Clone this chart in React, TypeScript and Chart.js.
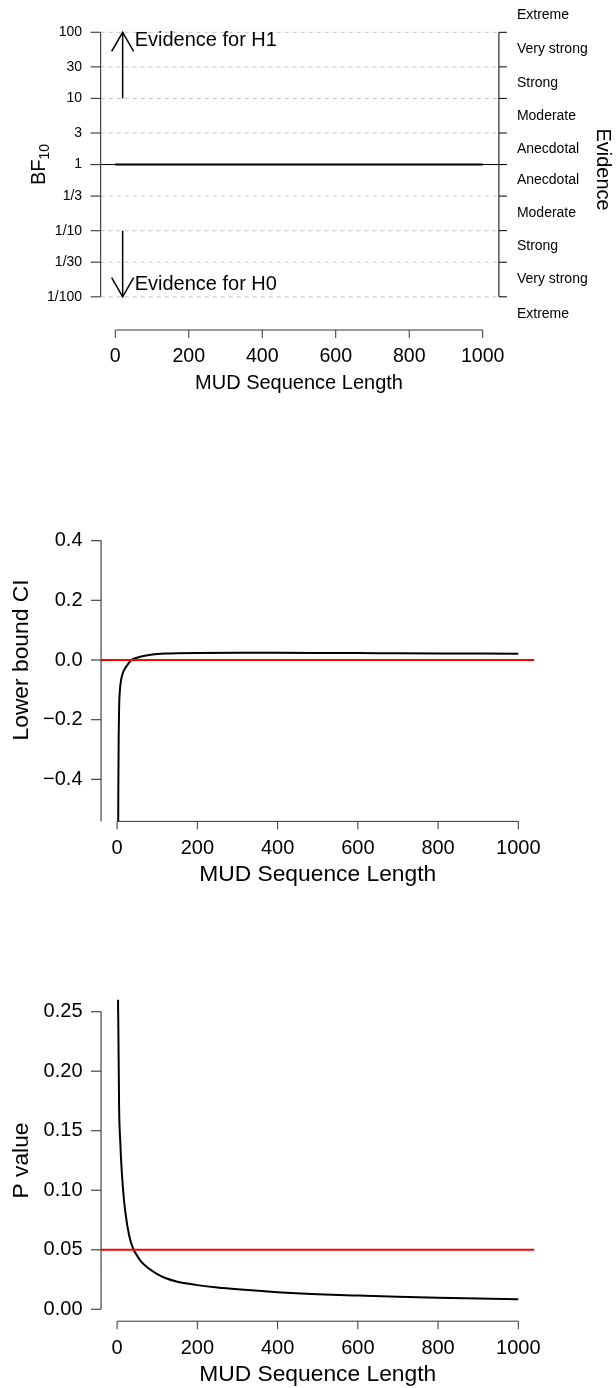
import React, { useEffect, useRef } from "react";
import { Chart, registerables } from "chart.js";
Chart.register(...registerables);

const FONT = '"Liberation Sans", Arial, Helvetica, sans-serif';

// ---------- data ----------
const xTickValues = [0, 200, 400, 600, 800, 1000];
const xTickLabels = ["0", "200", "400", "600", "800", "1000"];
const xTitle = "MUD Sequence Length";

// Panel 1: sequential Bayes factor
const bfTickValues = [100, 30, 10, 3, 1, 1 / 3, 1 / 10, 1 / 30, 1 / 100];
const bfTickLabels = ["100", "30", "10", "3", "1", "1/3", "1/10", "1/30", "1/100"];
const evidenceLabels = ["Extreme", "Very strong", "Strong", "Moderate", "Anecdotal", "Anecdotal", "Moderate", "Strong", "Very strong", "Extreme"];
const bfN = [0, 100, 200, 300, 400, 500, 600, 700, 800, 900, 1000];
const bfValues = [1, 1, 1, 1, 1, 1, 1, 1, 1, 1, 1];

// Panel 2: lower bound of CI
const ciTickValues = [0.4, 0.2, 0, -0.2, -0.4];
const ciTickLabels = ["0.4", "0.2", "0.0", "\u22120.2", "\u22120.4"];
const ciN = [2, 3, 4, 5, 7, 10, 14, 20, 28, 36, 45, 60, 80, 100, 120, 150, 200, 300, 400, 500, 600, 700, 800, 900, 1000];
const ciLower = [-0.9, -0.45, -0.25, -0.16, -0.1, -0.067, -0.045, -0.028, -0.012, 0.0, 0.006, 0.012, 0.017, 0.0198, 0.0215, 0.0228, 0.0238, 0.0242, 0.024, 0.0236, 0.0231, 0.0226, 0.0221, 0.0216, 0.0211];
const ciReference = 0;

// Panel 3: p value
const pTickValues = [0.25, 0.2, 0.15, 0.1, 0.05, 0];
const pTickLabels = ["0.25", "0.20", "0.15", "0.10", "0.05", "0.00"];
const pN = [1, 2, 3, 5, 8, 10, 15, 20, 30, 40, 50, 60, 80, 100, 120, 150, 175, 200, 250, 300, 400, 500, 600, 700, 800, 900, 1000];
const pValues = [0.6, 0.3, 0.24, 0.17, 0.14, 0.125, 0.1, 0.083, 0.062, 0.051, 0.045, 0.04, 0.034, 0.0295, 0.0263, 0.0232, 0.0216, 0.0203, 0.0183, 0.0168, 0.0144, 0.0127, 0.0115, 0.0105, 0.0097, 0.009, 0.0084];
const pReference = 0.05;

const X_MIN = -40;
const X_MAX = 1040;

function pts(xs: number[], ys: number[]) {
  return xs.map((x, i) => ({ x, y: ys[i] }));
}

function line(ctx: CanvasRenderingContext2D, x1: number, y1: number, x2: number, y2: number) {
  ctx.beginPath();
  ctx.moveTo(x1, y1);
  ctx.lineTo(x2, y2);
  ctx.stroke();
}

function drawXAxis(chart: any, axisY: number, fontSize: number, titleSize: number) {
  const ctx = chart.ctx as CanvasRenderingContext2D;
  const xs = chart.scales.x;
  const x0 = xs.getPixelForValue(xTickValues[0]);
  const x1 = xs.getPixelForValue(xTickValues[xTickValues.length - 1]);
  ctx.save();
  ctx.strokeStyle = "#333";
  ctx.lineWidth = 1;
  line(ctx, x0, axisY, x1, axisY);
  ctx.fillStyle = "#000";
  ctx.font = `${fontSize}px ${FONT}`;
  ctx.textAlign = "center";
  ctx.textBaseline = "middle";
  xTickValues.forEach((v, i) => {
    const px = xs.getPixelForValue(v);
    line(ctx, px, axisY, px, axisY + 8);
    ctx.fillText(xTickLabels[i], px, axisY + 27);
  });
  ctx.font = `${titleSize}px ${FONT}`;
  const ca = chart.chartArea;
  ctx.fillText(xTitle, (ca.left + ca.right) / 2, axisY + 53.5);
  ctx.restore();
}

function drawYAxis(chart: any, vals: number[], labels: string[], fontSize: number, yTop: number, yBottom: number) {
  const ctx = chart.ctx as CanvasRenderingContext2D;
  const ys = chart.scales.y;
  const left = chart.chartArea.left;
  ctx.save();
  ctx.strokeStyle = "#444";
  ctx.lineWidth = 1.2;
  line(ctx, left, yTop, left, yBottom);
  ctx.fillStyle = "#000";
  ctx.font = `${fontSize}px ${FONT}`;
  ctx.textAlign = "right";
  ctx.textBaseline = "middle";
  vals.forEach((v, i) => {
    const py = ys.getPixelForValue(v);
    line(ctx, left - 10, py, left, py);
    ctx.fillText(labels[i], left - 18.5, py);
  });
  ctx.restore();
}

function drawRotated(ctx: CanvasRenderingContext2D, text: string, x: number, y: number, angle: number, size: number) {
  ctx.save();
  ctx.translate(x, y);
  ctx.rotate(angle);
  ctx.font = `${size}px ${FONT}`;
  ctx.fillStyle = "#000";
  ctx.textAlign = "center";
  ctx.textBaseline = "middle";
  ctx.fillText(text, 0, 0);
  ctx.restore();
}

function arrow(ctx: CanvasRenderingContext2D, x: number, yFrom: number, yTo: number) {
  const dir = yTo < yFrom ? 1 : -1;
  line(ctx, x, yFrom, x, yTo);
  const len = 22;
  const dx = len * Math.sin(Math.PI / 6);
  const dy = len * Math.cos(Math.PI / 6);
  ctx.beginPath();
  ctx.moveTo(x - dx, yTo + dir * dy);
  ctx.lineTo(x, yTo);
  ctx.lineTo(x + dx, yTo + dir * dy);
  ctx.stroke();
}

const bfPlugin = {
  id: "bfDecor",
  beforeDatasetsDraw(chart: any) {
    const ctx = chart.ctx as CanvasRenderingContext2D;
    const ys = chart.scales.y;
    const ca = chart.chartArea;
    const bx = ca.right + 1.5;
    ctx.save();
    ctx.strokeStyle = "#c4c4c4";
    ctx.lineWidth = 1;
    ctx.setLineDash([4, 4]);
    bfTickValues.forEach((v) => {
      if (v === 1) return;
      const py = ys.getPixelForValue(v);
      line(ctx, ca.left, py, bx, py);
    });
    ctx.restore();
  },
  afterDatasetsDraw(chart: any) {
    const ctx = chart.ctx as CanvasRenderingContext2D;
    const xs = chart.scales.x;
    const ys = chart.scales.y;
    const ca = chart.chartArea;
    const bx = ca.right + 1.5;
    const yTop = ys.getPixelForValue(bfTickValues[0]);
    const yBot = ys.getPixelForValue(bfTickValues[bfTickValues.length - 1]);
    ctx.save();
    // horizontal line at BF = 1
    ctx.strokeStyle = "#000";
    ctx.lineWidth = 1;
    const y1 = ys.getPixelForValue(1);
    line(ctx, ca.left - 10, y1, bx + 8, y1);
    // left axis
    drawYAxis(chart, bfTickValues, bfTickLabels, 14, yTop, yBot);
    // right bracket
    ctx.strokeStyle = "#000";
    line(ctx, bx, yTop, bx, yBot);
    bfTickValues.forEach((v) => {
      const py = ys.getPixelForValue(v);
      line(ctx, bx, py, bx + 8, py);
    });
    // evidence category labels at geometric midpoints
    ctx.fillStyle = "#000";
    ctx.font = `14px ${FONT}`;
    ctx.textAlign = "left";
    ctx.textBaseline = "middle";
    const edges = [bfTickValues[0] * 1.8, ...bfTickValues, bfTickValues[bfTickValues.length - 1] / 1.8];
    evidenceLabels.forEach((lab, i) => {
      let v: number;
      if (i === 0) v = edges[0];
      else if (i === evidenceLabels.length - 1) v = edges[edges.length - 1];
      else v = Math.sqrt(edges[i] * edges[i + 1]);
      ctx.fillText(lab, bx + 18, ys.getPixelForValue(v));
    });
    drawRotated(ctx, "Evidence", 603, (yTop + yBot) / 2 + 5, Math.PI / 2, 20);
    // BF10 label
    ctx.save();
    ctx.translate(39, (yTop + yBot) / 2);
    ctx.rotate(-Math.PI / 2);
    ctx.font = `20px ${FONT}`;
    const wBF = ctx.measureText("BF").width;
    ctx.font = `14px ${FONT}`;
    const wSub = ctx.measureText("10").width;
    const start = -(wBF + wSub) / 2;
    ctx.textAlign = "left";
    ctx.textBaseline = "middle";
    ctx.fillStyle = "#000";
    ctx.font = `20px ${FONT}`;
    ctx.fillText("BF", start, 0);
    ctx.font = `14px ${FONT}`;
    ctx.fillText("10", start + wBF, 6);
    ctx.restore();
    // arrows
    ctx.strokeStyle = "#000";
    ctx.lineWidth = 1.5;
    const ax = xs.getPixelForValue(20);
    arrow(ctx, ax, ys.getPixelForValue(10), yTop);
    arrow(ctx, ax, ys.getPixelForValue(0.1), yBot);
    ctx.font = `20px ${FONT}`;
    ctx.textAlign = "left";
    ctx.textBaseline = "middle";
    ctx.fillText("Evidence for H1", ax + 12, yTop + 8);
    ctx.fillText("Evidence for H0", ax + 12, yBot - 12);
    // x axis (detached)
    drawXAxis(chart, yBot + 33.2, 19.6, 20);
    ctx.restore();
  },
};

function makeCurvePlugin(id: string, vals: number[], labels: string[], title: string, axisBottomToArea: boolean) {
  return {
    id,
    afterDatasetsDraw(chart: any) {
      const ctx = chart.ctx as CanvasRenderingContext2D;
      const ys = chart.scales.y;
      const ca = chart.chartArea;
      const yTop = ys.getPixelForValue(vals[0]);
      const yBot = axisBottomToArea ? ca.bottom : ys.getPixelForValue(vals[vals.length - 1]);
      drawYAxis(chart, vals, labels, 20, yTop, yBot);
      drawXAxis(chart, ca.bottom, 20, 22.8);
      drawRotated(ctx, title, 21.6, (ca.top + ca.bottom) / 2, -Math.PI / 2, 22.8);
    },
  };
}

type PanelProps = {
  top: number;
  height: number;
  config: any;
};

function Panel({ top, height, config }: PanelProps) {
  const ref = useRef<HTMLCanvasElement | null>(null);
  useEffect(() => {
    if (!ref.current) return;
    const chart = new Chart(ref.current, config);
    return () => chart.destroy();
  }, []);
  return (
    <canvas
      ref={ref}
      width={616}
      height={height}
      style={{ position: "absolute", left: 0, top, width: 616, height }}
    />
  );
}

const baseOptions = (padding: any, yScale: any) => ({
  responsive: false,
  animation: false,
  devicePixelRatio: 1,
  layout: { padding },
  plugins: { legend: { display: false }, tooltip: { enabled: false } },
  scales: {
    x: { type: "linear", min: X_MIN, max: X_MAX, display: false },
    y: yScale,
  },
});

const lineDs = (data: any[], color: string, width: number) => ({
  data,
  borderColor: color,
  borderWidth: width,
  pointRadius: 0,
  fill: false,
  cubicInterpolationMode: "monotone",
  clip: 0,
});

const config1 = {
  type: "line",
  data: {
    datasets: [lineDs(pts(bfN, bfValues), "#e05050", 3)],
  },
  options: baseOptions(
    { left: 100.6, right: 118.6, top: 32.3, bottom: 410 - 296.8 },
    { type: "logarithmic", min: 0.01, max: 100, display: false }
  ),
  plugins: [bfPlugin],
};

const config2 = {
  type: "line",
  data: {
    datasets: [
      lineDs(pts([X_MIN, X_MAX], [ciReference, ciReference]), "#ff0000", 2),
      lineDs(pts(ciN, ciLower), "#000000", 2),
    ],
  },
  options: baseOptions(
    { left: 101.05, right: 81.65, top: 78.6, bottom: 78.6 },
    { type: "linear", min: -0.5408, max: 0.5408, display: false }
  ),
  plugins: [makeCurvePlugin("ciDecor", ciTickValues, ciTickLabels, "Lower bound CI", true)],
};

const config3 = {
  type: "line",
  data: {
    datasets: [
      lineDs(pts([X_MIN, X_MAX], [pReference, pReference]), "#ff0000", 2),
      lineDs(pts(pN, pValues), "#000000", 2),
    ],
  },
  options: baseOptions(
    { left: 101.05, right: 81.65, top: 99.8, bottom: 66.8 },
    { type: "linear", min: -0.01, max: 0.26, display: false }
  ),
  plugins: [makeCurvePlugin("pDecor", pTickValues, pTickLabels, "P value", false)],
};

export default function App() {
  return (
    <div style={{ position: "absolute", left: 0, top: 0, width: 616, height: 1388, background: "#fff" }}>
      <Panel top={0} height={410} config={config1} />
      <Panel top={420} height={480} config={config2} />
      <Panel top={900} height={488} config={config3} />
    </div>
  );
}
